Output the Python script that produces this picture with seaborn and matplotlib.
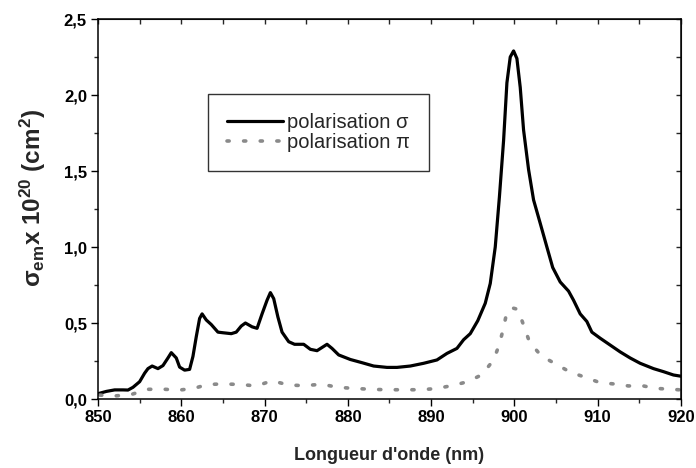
import matplotlib
matplotlib.use("Agg")
import matplotlib.pyplot as plt
import seaborn as sns
import pandas as pd
from matplotlib.ticker import MultipleLocator

# Emission cross-section spectra (x 1e-20 cm^2) versus wavelength (nm)
wl_sigma = [850.0, 851.0, 852.0, 853.0, 853.6, 854.2, 855.0, 855.6, 856.0, 856.5,
            857.2, 857.8, 858.4, 858.8, 859.4, 859.8, 860.4, 861.0, 861.4, 861.8,
            862.2, 862.5, 863.0, 863.6, 864.4, 865.0, 866.0, 866.6, 867.2, 867.7,
            868.5, 869.1, 869.7, 870.3, 870.7, 871.1, 871.6, 872.1, 872.9, 873.6,
            874.7, 875.5, 876.3, 877.5, 878.1, 878.9, 880.3, 881.7, 883.1, 884.7,
            885.9, 887.5, 889.1, 890.7, 891.9, 893.1, 893.9, 894.7, 895.6, 896.5,
            897.1, 897.7, 898.2, 898.7, 899.1, 899.5, 899.9, 900.3, 900.7, 901.1,
            901.7, 902.3, 903.1, 903.9, 904.6, 905.5, 906.5, 907.1, 907.9, 908.7,
            909.3, 910.3, 911.5, 912.7, 913.9, 915.1, 916.7, 917.9, 919.1, 920.0]
val_sigma = [0.035, 0.05, 0.06, 0.06, 0.059, 0.077, 0.114, 0.17, 0.20, 0.217,
             0.20, 0.22, 0.27, 0.305, 0.27, 0.21, 0.19, 0.195, 0.28, 0.41,
             0.53, 0.56, 0.52, 0.49, 0.44, 0.436, 0.43, 0.44, 0.48, 0.50,
             0.475, 0.465, 0.56, 0.65, 0.70, 0.66, 0.54, 0.44, 0.377, 0.36,
             0.36, 0.327, 0.318, 0.36, 0.333, 0.29, 0.26, 0.239, 0.217, 0.208,
             0.208, 0.217, 0.235, 0.257, 0.30, 0.333, 0.39, 0.43, 0.515, 0.63,
             0.76, 1.00, 1.33, 1.70, 2.08, 2.25, 2.29, 2.24, 2.05, 1.77,
             1.51, 1.31, 1.156, 1.00, 0.865, 0.77, 0.71, 0.65, 0.56, 0.51,
             0.44, 0.40, 0.355, 0.31, 0.27, 0.235, 0.20, 0.18, 0.158, 0.15]

wl_pi = [850.2, 852.0, 854.0, 856.0, 858.0, 859.8, 861.5, 863.2, 865.0, 867.0,
         869.0, 870.9, 872.9, 874.7, 876.9, 878.8, 880.7, 882.7, 884.7, 886.7,
         888.6, 890.5, 892.5, 894.4, 896.1, 897.5, 898.2, 898.7, 899.1, 899.7,
         900.4, 901.1, 901.8, 903.2, 904.9, 906.7, 908.5, 910.3, 912.0, 913.7,
         915.3, 917.0, 918.8, 920.0]
val_pi = [0.026, 0.02, 0.03, 0.064, 0.064, 0.059, 0.07, 0.096, 0.099, 0.096,
          0.086, 0.12, 0.092, 0.088, 0.097, 0.077, 0.07, 0.064, 0.061, 0.061,
          0.061, 0.068, 0.088, 0.114, 0.16, 0.257, 0.36, 0.47, 0.574, 0.60,
          0.59, 0.487, 0.377, 0.285, 0.232, 0.177, 0.143, 0.107, 0.099, 0.086,
          0.088, 0.07, 0.064, 0.06]

label_sigma = "polarisation σ"
label_pi = "polarisation π"
x_title = "Longueur d'onde (nm)"
y_title = r"$\sigma_{em}$x 10$^{20}$ (cm$^{2}$)"

sns.set_style("ticks")
plt.rcParams["font.family"] = ["Liberation Sans", "DejaVu Sans"]
plt.rcParams["mathtext.fontset"] = "custom"
plt.rcParams["mathtext.rm"] = "Liberation Sans"
plt.rcParams["mathtext.bf"] = "Liberation Sans:bold"
plt.rcParams["mathtext.it"] = "Liberation Sans:italic"
plt.rcParams["mathtext.default"] = "bf"

fig = plt.figure(figsize=(6.96, 4.68), dpi=100)
ax = fig.add_axes([0.1408, 0.1474, 0.8376, 0.812])

df_s = pd.DataFrame({"wl": wl_sigma, "val": val_sigma})
df_p = pd.DataFrame({"wl": wl_pi, "val": val_pi})

sns.lineplot(data=df_s, x="wl", y="val", ax=ax, color="black", lw=2.3,
             sort=False, estimator=None, label=label_sigma,
             solid_joinstyle="round")
sns.lineplot(data=df_p, x="wl", y="val", ax=ax, color="#8a8a8a", lw=2.6,
             sort=False, estimator=None, label=label_pi,
             linestyle=(0, (0.6, 4.0)), dash_capstyle="round")

ax.set_xlim(850, 920)
ax.set_ylim(0, 2.5)
ax.xaxis.set_major_locator(MultipleLocator(10))
ax.xaxis.set_minor_locator(MultipleLocator(5))
ax.yaxis.set_major_locator(MultipleLocator(0.5))
ax.yaxis.set_minor_locator(MultipleLocator(0.25))
ax.yaxis.set_major_formatter(lambda v, p: f"{v:.1f}".replace(".", ","))

for s in ax.spines.values():
    s.set_linewidth(1.1)
    s.set_color("black")
    s.set_visible(True)

ax.tick_params(which="major", direction="out", length=5, width=1.0,
               labelsize=12, colors="black", pad=3)
ax.tick_params(which="minor", direction="out", length=3, width=1.0)
for lab in ax.get_xticklabels() + ax.get_yticklabels():
    lab.set_fontweight("bold")

# mirrored inward ticks on top and right
top = ax.secondary_xaxis("top")
top.xaxis.set_major_locator(MultipleLocator(5))
top.tick_params(direction="in", length=3.5, width=1.0, labeltop=False)
right = ax.secondary_yaxis("right")
right.yaxis.set_major_locator(MultipleLocator(0.25))
right.tick_params(direction="in", length=3.5, width=1.0, labelright=False)

ax.set_xlabel(x_title, fontsize=13, fontweight="bold")
ax.xaxis.set_label_coords(0.5, -0.125)
ax.set_ylabel(y_title, fontsize=17.5, fontweight="bold")
ax.yaxis.set_label_coords(-0.085, 0.53)

leg = ax.legend(loc="upper left", bbox_to_anchor=(0.1887, 0.8026), fontsize=14.5,
                frameon=True, fancybox=False, edgecolor="black",
                handlelength=2.75, handletextpad=0.2, borderpad=0.95,
                labelspacing=0.05, borderaxespad=0)
leg.get_frame().set_linewidth(1.0)

fig.savefig("out.png", dpi=100)
